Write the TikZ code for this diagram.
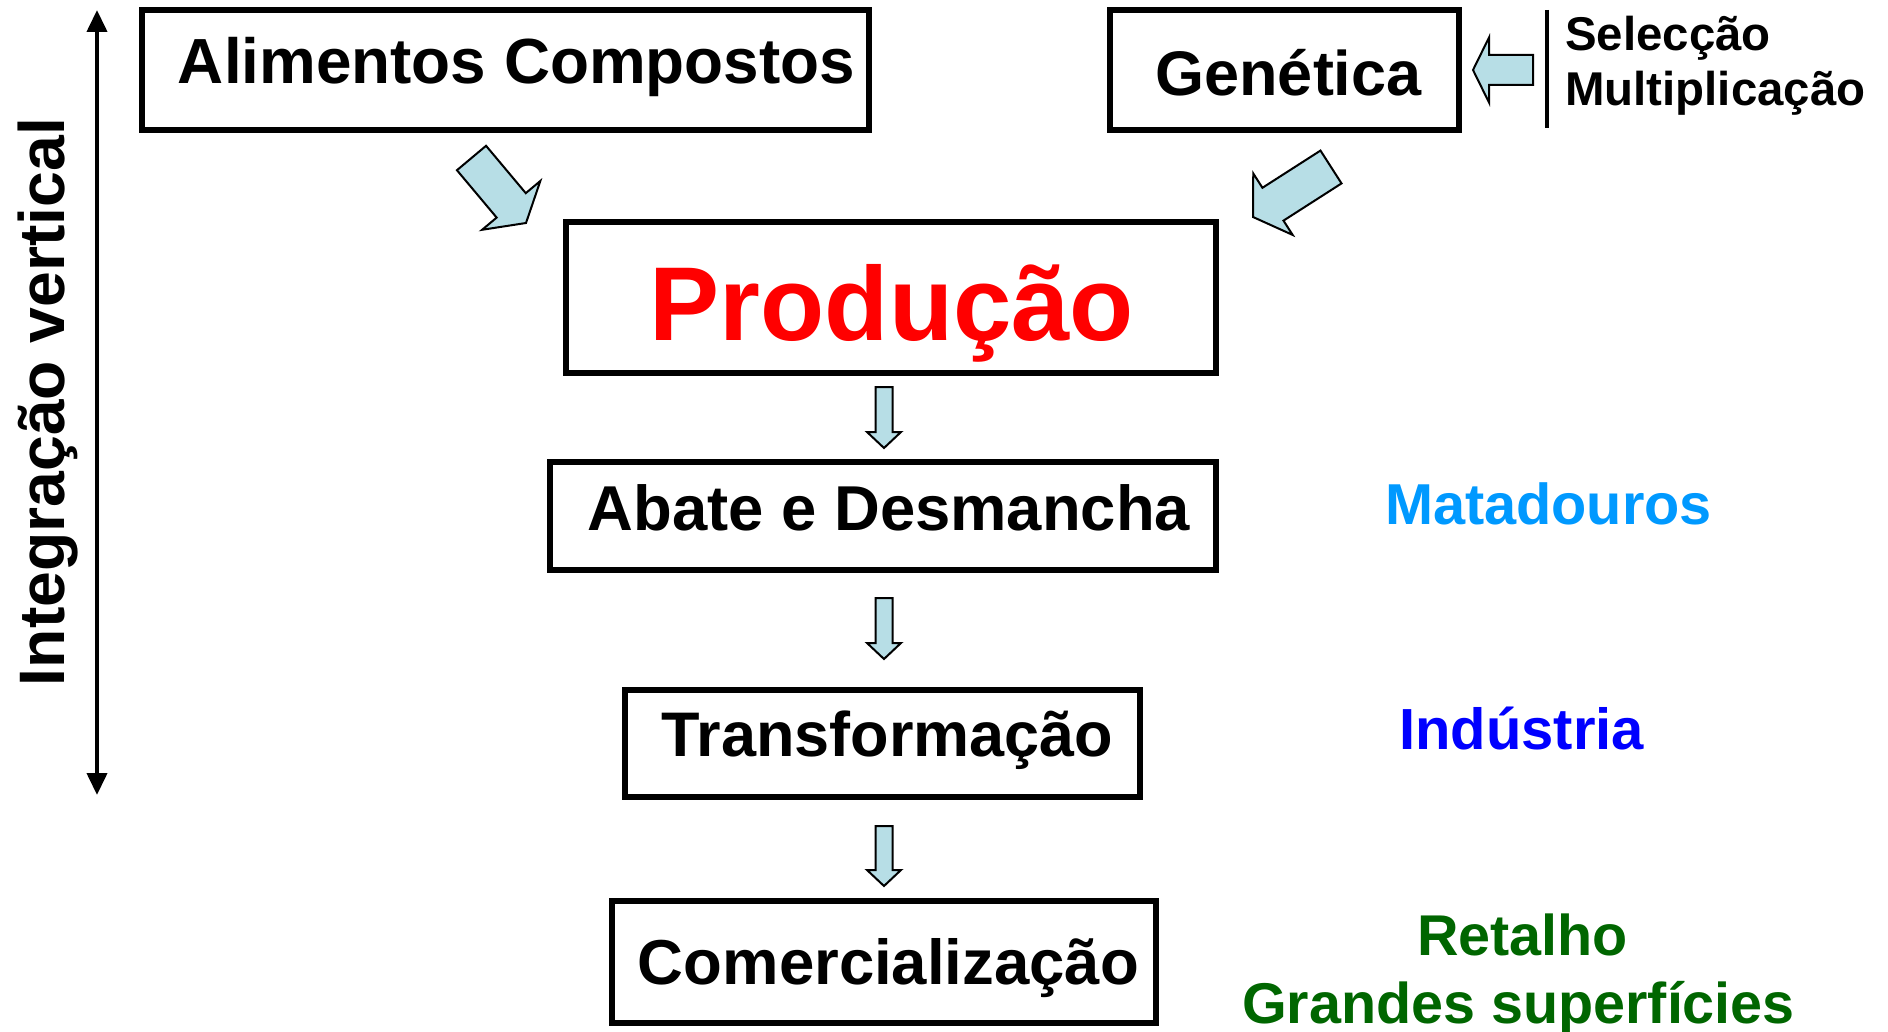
\documentclass[tikz,border=0pt]{standalone}
\usepackage{fontspec}
\setmainfont{Liberation Sans}
\usetikzlibrary{calc,arrows.meta}
\definecolor{arrowfill}{RGB}{183,222,230}
\definecolor{matblue}{RGB}{0,153,255}
\definecolor{indblue}{RGB}{0,0,255}
\definecolor{retgreen}{RGB}{0,102,0}
\definecolor{prodred}{RGB}{255,0,0}
\newcommand\fsz[1]{\fontsize{#1}{#1}\selectfont\bfseries}
\newcommand\blockarr[5]{%
  \coordinate (ba-t) at #1; \coordinate (ba-p) at #2;
  \coordinate (ba-h) at ($(ba-p)!#5!(ba-t)$);
  \filldraw[blockarrow] ($(ba-t)!#3!90:(ba-p)$) -- ($(ba-h)!#3!-90:(ba-t)$) -- ($(ba-h)!#4!-90:(ba-t)$) -- (ba-p) -- ($(ba-h)!#4!90:(ba-t)$) -- ($(ba-h)!#3!90:(ba-t)$) -- ($(ba-t)!#3!-90:(ba-p)$) -- cycle;}
\tikzset{
  box/.style={draw=black, line width=5.5pt, fill=white, inner sep=0pt},
  txt/.style={inner sep=0pt, anchor=base},
  blockarrow/.style={draw=black, fill=arrowfill, line width=2pt, line join=miter},
}
\begin{document}
\begin{tikzpicture}[x=1pt,y=-1pt]
\useasboundingbox[fill=white] (0,0) rectangle (1888,1032);

% boxes
\node[box, minimum width=727pt, minimum height=120pt] (alim) at (505.5,70) {};
\node[box, minimum width=349pt, minimum height=120pt] (gen) at (1284.5,70) {};
\node[box, minimum width=650pt, minimum height=151pt] (prod) at (891,297.5) {};
\node[box, minimum width=666pt, minimum height=108pt] (abate) at (883,516) {};
\node[box, minimum width=515pt, minimum height=107pt] (trans) at (882.5,743.5) {};
\node[box, minimum width=544pt, minimum height=122pt] (comer) at (884,962) {};

% box texts
\node[txt] (talim) at (516.5,84) {\fsz{63.8}Alimentos Compostos};
\node[txt] (tgen) at (1288.5,96) {\fsz{63}Genética};
\node[txt, text=prodred] (tprod) at (892,341) {\fsz{105}Produção};
\node[txt] (tabate) at (889,530) {\fsz{63.4}Abate e Desmancha};
\node[txt] (ttrans) at (887.5,756) {\fsz{63}Transformação};
\node[txt] (tcomer) at (888.5,984) {\fsz{63.5}Comercialização};

% side labels
\node[txt, text=matblue] (mat) at (1548.5,524) {\fsz{57.7}Matadouros};
\node[txt, text=indblue] (ind) at (1521.5,749) {\fsz{58}Indústria};
\node[txt, text=retgreen] (ret) at (1522.5,955) {\fsz{57.5}Retalho};
\node[txt, text=retgreen] (gs) at (1518.5,1023) {\fsz{57.5}Grandes superfícies};
\node[txt, anchor=base west] (sel) at (1565,51) {\fsz{47.4}Selecção};
\node[txt, anchor=base west] (mul) at (1565,106) {\fsz{47.4}Multiplicação};

% vertical integration
\node[txt, rotate=90] (iv) at (64,402) {\fsz{64.3}Integração vertical};
\coordinate (vtop) at (97,10);
\coordinate (vbot) at (97,795);
\draw[line width=4pt, {Triangle[width=20pt,length=22pt]}-{Triangle[width=20pt,length=22pt]}] (vtop) -- (vbot);

% separator bar
\coordinate (bartop) at (1547,10);
\coordinate (barbot) at (1547,128);
\draw[line width=4pt] (bartop) -- (barbot);

% block arrows
\blockarr{(471.5,158)}{(526,223)}{19pt}{38pt}{23pt}
\blockarr{(1331,167)}{(1253,217)}{19.5pt}{36.5pt}{23.7pt}
\blockarr{(1533,70)}{(1473,70)}{15pt}{32.5pt}{16pt}
\blockarr{(884,387)}{(884,448)}{8.5pt}{17pt}{16pt}
\blockarr{(884,598)}{(884,659)}{8.5pt}{17pt}{16pt}
\blockarr{(884,826)}{(884,886)}{8.5pt}{17pt}{16pt}
\end{tikzpicture}
\end{document}
